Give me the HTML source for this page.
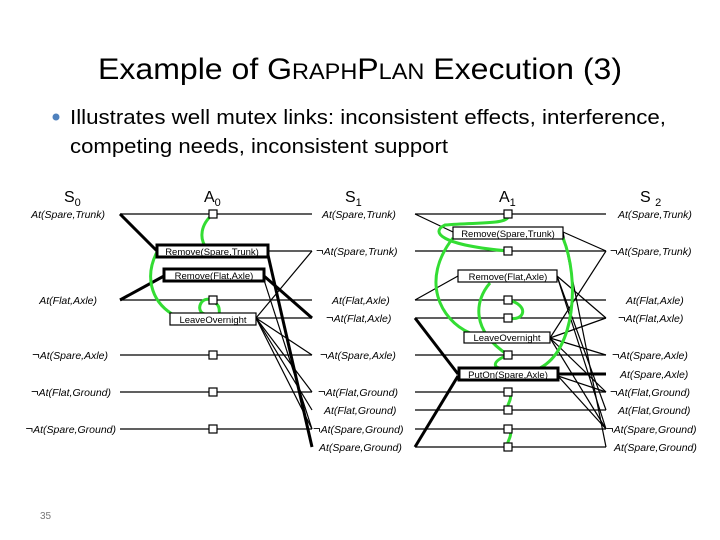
<!DOCTYPE html>
<html><head><meta charset="utf-8"><style>
html,body{margin:0;padding:0;background:#fff;}
svg{display:block;}
.l{font-family:"Liberation Sans",sans-serif;font-style:italic;font-size:10.5px;fill:#000;}
.n{font-style:normal;font-size:13px;}
.b{font-family:"Liberation Sans",sans-serif;font-size:9.5px;fill:#000;}
.h{font-family:"Liberation Sans",sans-serif;font-size:16px;fill:#000;}
</style></head><body>
<svg width="720" height="540" viewBox="0 0 720 540" xmlns="http://www.w3.org/2000/svg">
<text x="360" y="79" text-anchor="middle" font-family="Liberation Sans,sans-serif" font-size="30" textLength="524" lengthAdjust="spacingAndGlyphs">Example of G<tspan font-size="22">RAPH</tspan>P<tspan font-size="22">LAN</tspan> Execution (3)</text>
<circle cx="56" cy="117" r="3.5" fill="#4f81bd"/>
<text x="70" y="124" font-family="Liberation Sans,sans-serif" font-size="20" textLength="596" lengthAdjust="spacingAndGlyphs">Illustrates well mutex links: inconsistent effects, interference,</text>
<text x="70" y="153" font-family="Liberation Sans,sans-serif" font-size="20" textLength="378" lengthAdjust="spacingAndGlyphs">competing needs, inconsistent support</text>
<text x="40" y="519" font-family="Liberation Sans,sans-serif" font-size="10" fill="#777">35</text>

<text class="h" x="64" y="202">S<tspan font-size="11" dy="4">0</tspan></text>
<text class="h" x="204" y="202">A<tspan font-size="11" dy="4">0</tspan></text>
<text class="h" x="345" y="202">S<tspan font-size="11" dy="4">1</tspan></text>
<text class="h" x="499" y="202">A<tspan font-size="11" dy="4">1</tspan></text>
<text class="h" x="640" y="202">S <tspan font-size="11" dy="4">2</tspan></text>

<g stroke="#000" stroke-width="1.2" fill="none">
<line x1="120" y1="214" x2="312" y2="214"/>
<line x1="120" y1="300" x2="312" y2="300"/>
<line x1="120" y1="355" x2="312" y2="355"/>
<line x1="120" y1="392" x2="312" y2="392"/>
<line x1="120" y1="429" x2="312" y2="429"/>
<line x1="268" y1="251" x2="312" y2="251"/>
<line x1="256" y1="318" x2="312" y2="318"/>
<line x1="312" y1="251" x2="256" y2="318"/>
<line x1="256" y1="318" x2="312" y2="355"/>
<line x1="256" y1="318" x2="312" y2="392"/>
<line x1="256" y1="318" x2="312" y2="410"/>
<line x1="256" y1="318" x2="312" y2="429"/>
<line x1="264" y1="280" x2="312" y2="429"/>
<line x1="415" y1="214" x2="606" y2="214"/>
<line x1="415" y1="251" x2="606" y2="251"/>
<line x1="415" y1="300" x2="606" y2="300"/>
<line x1="415" y1="318" x2="606" y2="318"/>
<line x1="415" y1="355" x2="606" y2="355"/>
<line x1="415" y1="392" x2="606" y2="392"/>
<line x1="415" y1="410" x2="606" y2="410"/>
<line x1="415" y1="429" x2="606" y2="429"/>
<line x1="415" y1="447" x2="606" y2="447"/>
<line x1="415" y1="214" x2="453" y2="232"/>
<line x1="563" y1="232" x2="606" y2="251"/>
<line x1="563" y1="232" x2="606" y2="447"/>
<line x1="415" y1="300" x2="458" y2="276"/>
<line x1="557" y1="276" x2="606" y2="318"/>
<line x1="557" y1="276" x2="606" y2="410"/>
<line x1="557" y1="276" x2="606" y2="429"/>
<line x1="550" y1="338" x2="606" y2="251"/>
<line x1="550" y1="338" x2="606" y2="318"/>
<line x1="550" y1="338" x2="606" y2="355"/>
<line x1="550" y1="338" x2="606" y2="392"/>
<line x1="550" y1="338" x2="606" y2="429"/>
<line x1="558" y1="376" x2="606" y2="429"/>
<line x1="558" y1="376" x2="606" y2="392"/>
</g>
<g stroke="#000" stroke-width="3" fill="none">
<line x1="120" y1="214" x2="157" y2="251"/>
<line x1="120" y1="300" x2="164" y2="276"/>
<line x1="264" y1="276" x2="312" y2="318"/>
<line x1="268" y1="255" x2="312" y2="447"/>
<line x1="415" y1="318" x2="458" y2="374"/>
<line x1="415" y1="447" x2="458" y2="376"/>
<line x1="558" y1="374" x2="606" y2="374"/>
</g>
<g stroke="#33dd33" stroke-width="3" fill="none">
<path d="M213,214 C200,225 200,238 205,246"/>
<path d="M157,252 C145,275 150,300 172,314"/>
<path d="M213,300 C200,295 195,312 205,314 M213,302 C222,305 218,313 220,314"/>
<path d="M508,214 C512,225 480,222 445,225 C430,232 440,245 508,251"/>
<path d="M453,238 C420,280 440,320 470,333"/>
<path d="M508,300 C530,305 525,322 508,318"/>
<path d="M490,283 C475,300 470,330 508,355 C490,362 495,368 500,368"/>
<path d="M563,238 C580,280 575,350 540,368"/>
<path d="M508,392 C515,398 505,405 508,410"/>
<path d="M508,429 C515,435 505,442 508,447"/>
</g>
<g fill="#fff" stroke="#000" stroke-width="1.2">
<rect x="209" y="210" width="8" height="8"/><rect x="209" y="296" width="8" height="8"/>
<rect x="209" y="351" width="8" height="8"/><rect x="209" y="388" width="8" height="8"/>
<rect x="209" y="425" width="8" height="8"/>
<rect x="504" y="210" width="8" height="8"/><rect x="504" y="247" width="8" height="8"/>
<rect x="504" y="296" width="8" height="8"/><rect x="504" y="314" width="8" height="8"/>
<rect x="504" y="351" width="8" height="8"/><rect x="504" y="388" width="8" height="8"/>
<rect x="504" y="406" width="8" height="8"/><rect x="504" y="425" width="8" height="8"/>
<rect x="504" y="443" width="8" height="8"/>
</g>
<g fill="#fff" stroke="#000">
<rect x="157" y="245" width="111" height="12" stroke-width="3"/>
<rect x="164" y="269" width="100" height="12" stroke-width="3"/>
<rect x="170" y="313" width="86" height="12" stroke-width="1.2"/>
<rect x="453" y="227" width="110" height="12" stroke-width="1.2"/>
<rect x="458" y="270" width="99" height="12" stroke-width="1.2"/>
<rect x="464" y="332" width="86" height="11" stroke-width="1.2"/>
<rect x="459" y="368" width="99" height="12" stroke-width="3"/>
</g>
<text class="b" x="212" y="255" text-anchor="middle">Remove(Spare,Trunk)</text>
<text class="b" x="214" y="279" text-anchor="middle">Remove(Flat,Axle)</text>
<text class="b" x="213" y="323" text-anchor="middle">LeaveOvernight</text>
<text class="b" x="508" y="237" text-anchor="middle">Remove(Spare,Trunk)</text>
<text class="b" x="508" y="280" text-anchor="middle">Remove(Flat,Axle)</text>
<text class="b" x="507" y="341" text-anchor="middle">LeaveOvernight</text>
<text class="b" x="508" y="378" text-anchor="middle">PutOn(Spare,Axle)</text>

<g class="l" text-anchor="end">
<text x="105" y="218">At(Spare,Trunk)</text>
<text x="97" y="304">At(Flat,Axle)</text>
<text x="108" y="359"><tspan class="n">¬</tspan>At(Spare,Axle)</text>
<text x="111" y="396"><tspan class="n">¬</tspan>At(Flat,Ground)</text>
<text x="116" y="433"><tspan class="n">¬</tspan>At(Spare,Ground)</text>
</g>
<g class="l">
<text x="322" y="218">At(Spare,Trunk)</text>
<text x="316" y="255"><tspan class="n">¬</tspan>At(Spare,Trunk)</text>
<text x="332" y="304">At(Flat,Axle)</text>
<text x="326" y="322"><tspan class="n">¬</tspan>At(Flat,Axle)</text>
<text x="320" y="359"><tspan class="n">¬</tspan>At(Spare,Axle)</text>
<text x="318" y="396"><tspan class="n">¬</tspan>At(Flat,Ground)</text>
<text x="324" y="414">At(Flat,Ground)</text>
<text x="313" y="433"><tspan class="n">¬</tspan>At(Spare,Ground)</text>
<text x="319" y="451">At(Spare,Ground)</text>
</g>
<g class="l">
<text x="618" y="218">At(Spare,Trunk)</text>
<text x="610" y="255"><tspan class="n">¬</tspan>At(Spare,Trunk)</text>
<text x="626" y="304">At(Flat,Axle)</text>
<text x="618" y="322"><tspan class="n">¬</tspan>At(Flat,Axle)</text>
<text x="612" y="359"><tspan class="n">¬</tspan>At(Spare,Axle)</text>
<text x="620" y="378">At(Spare,Axle)</text>
<text x="610" y="396"><tspan class="n">¬</tspan>At(Flat,Ground)</text>
<text x="618" y="414">At(Flat,Ground)</text>
<text x="606" y="433"><tspan class="n">¬</tspan>At(Spare,Ground)</text>
<text x="614" y="451">At(Spare,Ground)</text>
</g>
</svg>
</body></html>
